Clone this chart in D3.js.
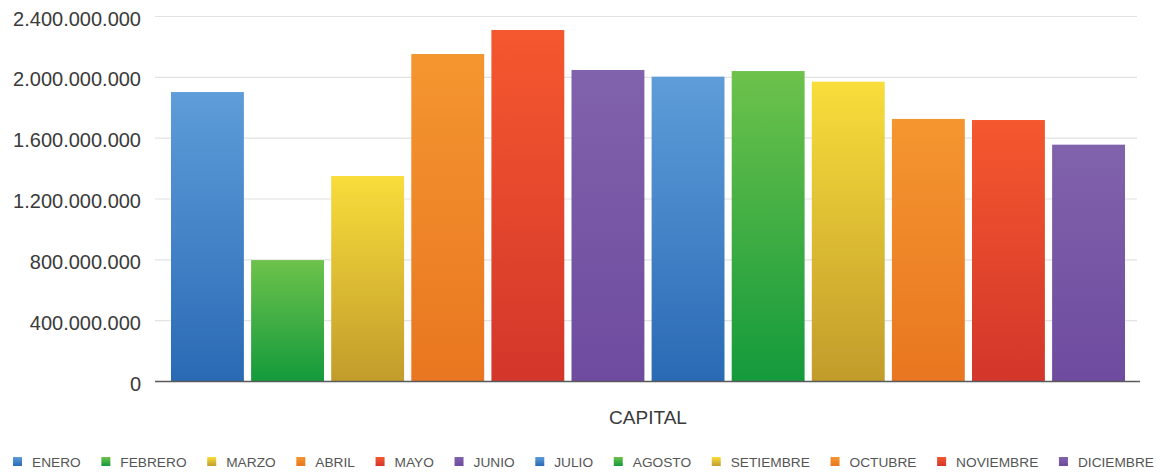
<!DOCTYPE html>
<html lang="es">

<head>
    <meta charset="UTF-8">
    <style>
        body { margin: 0; background: #fff; }
        svg { display: block; font-family: "Liberation Sans", Arial, sans-serif; }
    </style>
</head>

<body>
    <svg width="1164" height="474"></svg>
    <script src="https://d3js.org/d3.v7.min.js"></script>
    <script>
        // datos
        let meses = ["ENERO", "FEBRERO", "MARZO", "ABRIL", "MAYO", "JUNIO",
            "JULIO", "AGOSTO", "SETIEMBRE", "OCTUBRE", "NOVIEMBRE", "DICIEMBRE"]
        let capital = [1900000000, 795000000, 1348000000, 2150000000, 2308000000, 2045000000,
            2001000000, 2038000000, 1968000000, 1723000000, 1716000000, 1554000000]
        let ticksY = [0, 400000000, 800000000, 1200000000, 1600000000, 2000000000, 2400000000]
        let tituloX = "CAPITAL"

        // colores [arriba, abajo] del degradado, se repiten cada 6 meses
        let colores = [
            ["#5e9dd9", "#2a6ab5"],
            ["#6dc24b", "#149a3c"],
            ["#f8dd3b", "#c29c2b"],
            ["#f49630", "#e97620"],
            ["#f5582e", "#d3362a"],
            ["#8162ac", "#6e4b9f"]
        ]

        var svg = d3.select("svg")
        var plot = { left: 155, right: 1137, top: 16, bottom: 381 }

        var es = d3.formatLocale({ decimal: ",", thousands: ".", grouping: [3], currency: ["", ""] })
        var fmt = es.format(",")

        var x = d3.scaleBand()
            .domain(meses)
            .range([171, 1125])
            .paddingInner(0.09)
            .paddingOuter(0)

        var y = d3.scaleLinear()
            .domain([0, 2400000000])
            .range([plot.bottom, plot.top])

        // degradados
        var defs = svg.append("defs")
        colores.forEach(function (c, i) {
            var g = defs.append("linearGradient")
                .attr("id", "grad" + i)
                .attr("x1", 0).attr("y1", 0)
                .attr("x2", 0).attr("y2", 1)
            g.append("stop").attr("offset", "0%").attr("stop-color", c[0])
            g.append("stop").attr("offset", "100%").attr("stop-color", c[1])
        })

        // eje Y con líneas de guía
        var axisY = svg.append("g")
            .attr("transform", "translate(" + plot.left + ",0)")
            .call(d3.axisLeft(y)
                .tickValues(ticksY)
                .tickFormat(fmt)
                .tickSize(-(plot.right - plot.left))
                .tickPadding(14))

        axisY.select(".domain").remove()
        axisY.selectAll(".tick line")
            .attr("stroke", "#e2e2e2")
            .attr("stroke-width", 1.2)
        axisY.selectAll(".tick text")
            .attr("font-family", "'Liberation Sans', Arial, sans-serif")
            .attr("font-size", 20)
            .attr("fill", "#3a3a3a")
            .attr("dy", "0.45em")

        // barras
        svg.append("g")
            .selectAll("rect")
            .data(meses)
            .enter()
            .append("rect")
            .attr("x", d => x(d))
            .attr("width", x.bandwidth())
            .attr("y", (d, i) => y(capital[i]))
            .attr("height", (d, i) => y(0) - y(capital[i]))
            .attr("fill", (d, i) => "url(#grad" + (i % colores.length) + ")")

        // línea base
        svg.append("line")
            .attr("x1", plot.left)
            .attr("x2", plot.right + 3)
            .attr("y1", y(0) + 0.5)
            .attr("y2", y(0) + 0.5)
            .attr("stroke", "#5a5a5a")
            .attr("stroke-width", 1.3)

        // título del eje X
        svg.append("text")
            .attr("x", (plot.left + plot.right) / 2 + 2)
            .attr("y", 424)
            .attr("text-anchor", "middle")
            .attr("font-size", 19)
            .attr("fill", "#3a3a3a")
            .text(tituloX)

        // leyenda repartida a lo ancho
        var legend = svg.append("g")
        var items = legend.selectAll("g")
            .data(meses)
            .enter()
            .append("g")

        items.append("rect")
            .attr("width", 9)
            .attr("height", 9)
            .attr("y", 457)
            .attr("fill", (d, i) => "url(#grad" + (i % colores.length) + ")")

        items.append("text")
            .attr("x", 19)
            .attr("y", 467)
            .attr("font-size", 13.7)
            .attr("fill", "#555")
            .text(d => d)

        var anchos = []
        items.selectAll("text").each(function () { anchos.push(19 + this.getComputedTextLength()) })
        var inicio = 13, fin = 1154
        var hueco = (fin - inicio - d3.sum(anchos)) / (meses.length - 1)
        var pos = inicio
        items.attr("transform", function (d, i) {
            var t = "translate(" + pos + ",0)"
            pos += anchos[i] + hueco
            return t
        })
    </script>
</body>

</html>
